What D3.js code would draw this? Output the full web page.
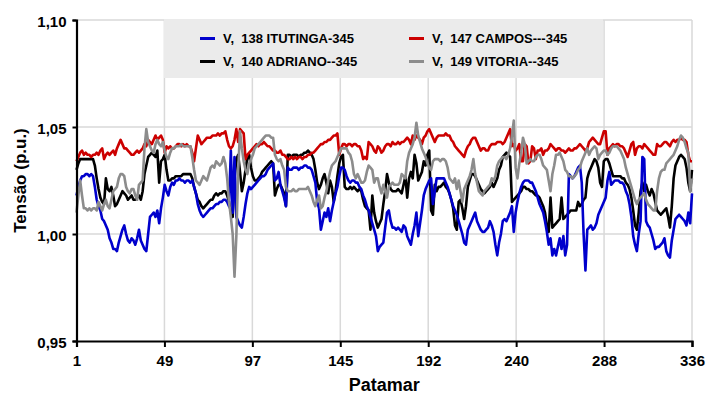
<!DOCTYPE html>
<html>
<head>
<meta charset="utf-8">
<script src="https://cdn.jsdelivr.net/npm/d3@7"></script>
<style>
  html, body { margin: 0; padding: 0; background: #ffffff; }
  svg { display: block; font-family: "Liberation Sans", Arial, sans-serif; }
</style>
</head>
<body>
<svg id="chart" width="706" height="394"></svg>
<script>
// Patamar (load level) index 1..336
const patamarCount = 336;

// Voltage (p.u.) per patamar for each bus
const itutinga138 = [
  1.018,1.022,1.025,1.027,1.027,1.028,1.028,1.027,1.028,1.027,
  1.022,1.016,1.013,1.011,1.007,1.006,1.004,1.002,0.998,0.996,
  0.993,0.993,0.992,0.996,0.999,1.002,1.004,1.000,0.997,0.996,
  0.998,0.997,0.995,0.998,1.002,0.997,0.995,0.993,0.992,1.000,
  1.008,1.009,1.010,1.008,1.011,1.005,1.012,1.017,1.023,1.020,
  1.018,1.022,1.024,1.023,1.025,1.025,1.026,1.025,1.025,1.024,
  1.025,1.025,1.024,1.025,1.022,1.019,1.014,1.011,1.009,1.008,
  1.009,1.010,1.011,1.012,1.012,1.013,1.014,1.014,1.015,1.015,
  1.016,1.016,1.015,1.013,1.039,1.010,1.036,1.008,1.006,1.004,
  1.003,1.008,1.014,1.019,1.022,1.021,1.022,1.023,1.024,1.025,
  1.026,1.027,1.027,1.028,1.030,1.031,1.032,1.033,1.025,1.026,
  1.029,1.023,1.020,1.017,1.013,1.031,1.030,1.030,1.031,1.031,
  1.031,1.030,1.031,1.031,1.032,1.032,1.031,1.031,1.030,1.027,
  1.024,1.015,1.012,1.002,1.006,1.010,1.008,1.012,1.006,1.011,
  1.015,1.019,1.022,1.027,1.031,1.031,1.030,1.027,1.025,1.024,
  1.025,1.025,1.024,1.024,1.022,1.021,1.018,1.016,1.013,1.011,
  1.008,1.005,1.002,0.999,0.992,0.994,0.995,0.996,1.003,1.010,
  1.011,1.006,1.003,1.003,1.002,1.003,1.002,1.001,1.004,1.003,
  0.999,0.997,0.995,1.000,1.004,1.010,0.999,1.005,1.011,1.018,
  1.021,1.023,1.025,1.026,1.014,1.020,1.026,1.026,1.026,1.026,
  1.026,1.024,1.022,1.019,1.016,1.013,1.011,1.009,1.006,1.003,
  1.000,0.996,0.995,1.002,1.004,1.006,1.008,1.010,1.006,1.004,
  1.002,1.001,1.001,1.002,1.003,1.006,1.004,1.001,0.995,0.990,
  0.996,1.000,1.006,1.007,1.006,1.008,1.010,1.013,1.001,1.010,
  1.015,1.019,1.022,1.024,1.025,1.025,1.025,1.024,1.024,1.022,
  1.020,1.017,1.014,1.012,1.010,1.006,1.001,0.995,0.998,0.990,
  0.993,0.990,0.994,0.998,0.993,0.999,0.990,0.995,1.028,1.027,
  1.026,1.027,1.029,1.031,1.032,1.024,1.000,0.983,1.002,1.003,
  1.004,1.002,1.003,1.005,1.009,1.011,1.013,1.015,1.017,1.025,
  1.029,1.023,1.024,1.025,1.025,1.025,1.024,1.024,1.023,1.020,
  1.018,1.014,1.008,0.999,0.995,0.992,1.000,1.006,1.036,1.035,
  1.006,1.004,1.003,1.000,0.997,0.993,0.994,0.994,0.995,0.996,
  0.998,0.992,0.990,0.989,0.997,1.002,1.007,1.008,1.009,1.008,
  1.007,1.006,1.004,1.010,1.005,1.019
];

const campos147 = [
  1.034,1.036,1.038,1.039,1.037,1.038,1.037,1.037,1.036,1.037,
  1.037,1.038,1.037,1.039,1.040,1.035,1.037,1.038,1.037,1.038,
  1.039,1.037,1.040,1.042,1.044,1.042,1.040,1.040,1.039,1.038,
  1.037,1.037,1.038,1.039,1.038,1.039,1.040,1.042,1.041,1.044,
  1.043,1.042,1.044,1.046,1.044,1.045,1.046,1.044,1.038,1.041,
  1.040,1.041,1.040,1.040,1.041,1.042,1.042,1.041,1.042,1.041,
  1.042,1.041,1.041,1.038,1.034,1.040,1.046,1.044,1.042,1.043,
  1.044,1.045,1.045,1.045,1.046,1.046,1.046,1.047,1.046,1.047,
  1.047,1.048,1.044,1.041,1.040,1.041,1.044,1.049,1.043,1.049,
  1.048,1.047,1.035,1.037,1.038,1.039,1.040,1.041,1.042,1.041,
  1.042,1.042,1.043,1.042,1.041,1.041,1.040,1.039,1.039,1.038,
  1.038,1.039,1.037,1.037,1.036,1.035,1.035,1.036,1.035,1.036,
  1.035,1.036,1.036,1.035,1.036,1.036,1.037,1.037,1.038,1.038,
  1.039,1.040,1.041,1.042,1.042,1.043,1.043,1.044,1.044,1.045,
  1.046,1.046,1.047,1.037,1.040,1.042,1.042,1.041,1.042,1.042,
  1.041,1.042,1.042,1.041,1.041,1.039,1.035,1.036,1.035,1.043,
  1.042,1.041,1.039,1.038,1.041,1.040,1.038,1.039,1.041,1.042,
  1.042,1.041,1.043,1.042,1.042,1.043,1.042,1.043,1.043,1.044,
  1.045,1.044,1.042,1.046,1.044,1.046,1.045,1.044,1.042,1.045,
  1.046,1.048,1.049,1.047,1.045,1.043,1.045,1.046,1.046,1.046,
  1.046,1.047,1.046,1.046,1.044,1.043,1.041,1.040,1.039,1.038,
  1.037,1.036,1.039,1.041,1.042,1.044,1.045,1.045,1.043,1.041,
  1.039,1.040,1.040,1.039,1.039,1.041,1.042,1.042,1.042,1.043,
  1.043,1.043,1.042,1.043,1.045,1.047,1.049,1.041,1.042,1.039,
  1.040,1.042,1.034,1.034,1.042,1.041,1.033,1.034,1.041,1.040,
  1.035,1.039,1.039,1.040,1.037,1.039,1.039,1.040,1.042,1.041,
  1.040,1.039,1.040,1.040,1.039,1.039,1.038,1.039,1.040,1.039,
  1.039,1.040,1.040,1.041,1.042,1.041,1.040,1.039,1.040,1.043,
  1.044,1.045,1.044,1.043,1.042,1.042,1.045,1.048,1.048,1.037,
  1.040,1.041,1.042,1.041,1.042,1.042,1.041,1.041,1.040,1.038,
  1.036,1.039,1.042,1.043,1.037,1.040,1.041,1.041,1.040,1.042,
  1.041,1.040,1.039,1.038,1.037,1.037,1.042,1.041,1.041,1.042,
  1.043,1.043,1.042,1.041,1.043,1.044,1.043,1.044,1.044,1.045,
  1.044,1.044,1.043,1.037,1.034,1.034
];

const adriano140 = [
  1.030,1.033,1.035,1.035,1.035,1.035,1.035,1.035,1.035,1.035,
  1.032,1.026,1.021,1.017,1.015,1.014,1.026,1.021,1.020,1.022,
  1.018,1.013,1.014,1.016,1.018,1.020,1.019,1.018,1.016,1.017,
  1.018,1.016,1.016,1.017,1.018,1.016,1.020,1.028,1.032,1.036,
  1.037,1.038,1.037,1.036,1.039,1.024,1.034,1.035,1.037,1.030,
  1.025,1.025,1.026,1.026,1.027,1.027,1.027,1.027,1.028,1.028,
  1.028,1.028,1.028,1.026,1.022,1.019,1.016,1.015,1.013,1.012,
  1.013,1.014,1.015,1.016,1.016,1.018,1.019,1.018,1.019,1.019,
  1.020,1.020,1.018,1.015,1.010,1.008,1.026,1.035,1.037,1.029,
  1.020,1.024,1.030,1.036,1.037,1.031,1.027,1.025,1.025,1.026,
  1.027,1.029,1.030,1.031,1.032,1.033,1.034,1.033,1.018,1.021,
  1.023,1.023,1.021,1.019,1.013,1.037,1.037,1.036,1.037,1.037,
  1.037,1.036,1.037,1.037,1.038,1.038,1.039,1.038,1.037,1.035,
  1.030,1.024,1.021,1.023,1.026,1.028,1.024,1.019,1.025,1.022,
  1.015,1.020,1.027,1.033,1.036,1.037,1.022,1.021,1.021,1.022,
  1.021,1.022,1.021,1.020,1.021,1.020,1.016,1.013,1.012,1.011,
  1.002,1.018,1.010,1.006,1.003,1.005,1.007,1.014,1.020,1.028,
  1.024,1.021,1.020,1.020,1.020,1.021,1.020,1.019,1.023,1.027,
  1.017,1.026,1.029,1.026,1.037,1.033,1.025,1.027,1.029,1.034,
  1.032,1.037,1.039,1.011,1.009,1.023,1.020,1.022,1.022,1.023,
  1.024,1.022,1.021,1.019,1.016,1.012,1.004,1.002,1.015,1.016,
  1.012,1.007,1.013,1.022,1.025,1.028,1.028,1.027,1.025,1.023,
  1.021,1.020,1.019,1.020,1.021,1.022,1.024,1.022,1.024,1.026,
  1.030,1.032,1.036,1.037,1.038,1.037,1.036,1.015,1.016,1.017,
  1.018,1.019,1.020,1.022,1.022,1.021,1.021,1.020,1.020,1.019,
  1.018,1.018,1.017,1.015,1.013,1.010,1.004,1.001,1.017,1.003,
  1.004,1.005,1.006,1.007,1.017,1.007,1.008,1.009,1.010,1.011,
  1.011,1.011,1.011,1.015,1.013,1.014,1.016,1.017,1.026,1.029,
  1.031,1.033,1.035,1.034,1.031,1.024,1.022,1.034,1.035,1.035,
  1.033,1.030,1.027,1.027,1.027,1.027,1.027,1.026,1.026,1.024,
  1.023,1.021,1.017,1.011,1.004,1.002,1.010,1.020,1.024,1.020,
  1.023,1.020,1.018,1.021,1.019,1.015,1.011,1.010,1.009,1.010,
  1.011,1.012,1.008,1.003,1.013,1.026,1.032,1.034,1.036,1.037,
  1.036,1.035,1.031,1.024,1.020,1.030
];

const vitoria149 = [
  1.010,1.018,1.025,1.018,1.012,1.012,1.011,1.012,1.011,1.012,
  1.012,1.011,1.015,1.013,1.011,1.014,1.016,1.013,1.012,1.016,
  1.020,1.021,1.022,1.026,1.028,1.028,1.027,1.022,1.020,1.019,
  1.021,1.021,1.018,1.016,1.023,1.024,1.025,1.040,1.049,1.043,
  1.041,1.039,1.038,1.042,1.044,1.042,1.041,1.043,1.039,1.036,
  1.035,1.038,1.040,1.040,1.041,1.041,1.041,1.042,1.041,1.041,
  1.041,1.041,1.041,1.036,1.030,1.025,1.024,1.023,1.025,1.027,
  1.026,1.025,1.028,1.031,1.032,1.031,1.034,1.033,1.032,1.033,
  1.036,1.033,1.026,1.015,1.008,1.000,0.980,0.999,1.030,1.048,
  1.040,1.034,1.030,1.028,1.033,1.035,1.037,1.040,1.041,1.042,
  1.043,1.044,1.045,1.046,1.046,1.046,1.045,1.045,1.037,1.035,
  1.034,1.035,1.032,1.030,1.022,1.020,1.020,1.020,1.021,1.020,
  1.020,1.021,1.021,1.021,1.021,1.021,1.022,1.020,1.018,1.015,
  1.013,1.016,1.018,1.012,1.013,1.017,1.020,1.025,1.029,1.032,
  1.033,1.034,1.036,1.038,1.040,1.040,1.040,1.040,1.038,1.037,
  1.034,1.028,1.026,1.028,1.026,1.024,1.024,1.025,1.029,1.032,
  1.031,1.030,1.024,1.026,1.026,1.022,1.019,1.023,1.020,1.017,
  1.022,1.023,1.024,1.023,1.023,1.023,1.024,1.028,1.027,1.026,
  1.034,1.038,1.040,1.042,1.045,1.052,1.046,1.043,1.040,1.038,
  1.036,1.033,1.031,1.030,1.034,1.035,1.035,1.035,1.034,1.035,
  1.035,1.034,1.031,1.026,1.025,1.024,1.026,1.021,1.025,1.020,
  1.015,1.021,1.023,1.025,1.027,1.030,1.035,1.028,1.024,1.020,
  1.019,1.018,1.020,1.021,1.022,1.023,1.026,1.025,1.027,1.032,
  1.034,1.035,1.036,1.036,1.035,1.037,1.040,1.046,1.053,1.031,
  1.026,1.033,1.038,1.045,1.042,1.033,1.034,1.035,1.034,1.034,
  1.036,1.037,1.037,1.035,1.032,1.031,1.030,1.025,1.020,1.028,
  1.032,1.037,1.037,1.038,1.036,1.034,1.030,1.029,1.027,1.027,
  1.026,1.027,1.028,1.030,1.031,1.034,1.036,1.038,1.040,1.037,
  1.039,1.040,1.041,1.040,1.035,1.037,1.038,1.039,1.039,1.037,
  1.038,1.040,1.041,1.041,1.041,1.040,1.039,1.037,1.035,1.031,
  1.028,1.025,1.022,1.019,1.016,1.014,1.016,1.017,1.018,1.019,
  1.016,1.014,1.013,1.012,1.011,1.011,1.020,1.026,1.029,1.030,
  1.030,1.033,1.034,1.035,1.036,1.037,1.039,1.041,1.044,1.046,
  1.045,1.043,1.040,1.038,1.020,1.026
];

// Legend entries (row-major, two columns)
const legendNames = [
  "V,  138 ITUTINGA-345",
  "V,  147 CAMPOS---345",
  "V,  140 ADRIANO--345",
  "V,  149 VITORIA--345"
];

// Axis tick labels
const yTickValues = [0.95, 1.00, 1.05, 1.10];
const xTickLabels = ["1", "49", "97", "145", "192", "240", "288", "336"];

const xTitle = "Patamar";
const yTitle = "Tensão (p.u.)";

// ---- drawing ----
const svg = d3.select("#chart");
const W = 706, H = 394;
const plot = { left: 76.5, right: 692, top: 20, bottom: 341 };

svg.append("rect").attr("width", W).attr("height", H).attr("fill", "#ffffff");

const x = d3.scaleLinear().domain([1, patamarCount]).range([plot.left, plot.right]);
const y = d3.scaleLinear().domain([0.95, 1.10]).range([plot.bottom, plot.top]);

// evenly spaced category ticks (every 335/7 patamares)
const xTickPos = xTickLabels.map((_, k) => 1 + k * (patamarCount - 1) / (xTickLabels.length - 1));

const ptBR = d3.formatLocale({ decimal: ",", thousands: ".", grouping: [3], currency: ["", ""] });
const fmtY = ptBR.format(".2f");

// gridlines
const grid = svg.append("g").attr("stroke", "#d9d9d9").attr("stroke-width", 1.5);
grid.selectAll("line.h")
  .data(yTickValues.slice(1))
  .join("line")
  .attr("x1", plot.left).attr("x2", plot.right)
  .attr("y1", d => y(d)).attr("y2", d => y(d));
grid.selectAll("line.v")
  .data(xTickPos.slice(1))
  .join("line")
  .attr("x1", d => x(d)).attr("x2", d => x(d))
  .attr("y1", plot.top).attr("y2", plot.bottom);

// series
const series = [
  { name: legendNames[2], values: adriano140, color: "#000000" },
  { name: legendNames[0], values: itutinga138, color: "#0000cc" },
  { name: legendNames[1], values: campos147, color: "#cc0000" },
  { name: legendNames[3], values: vitoria149, color: "#8c8c8c" }
];

const line = d3.line()
  .x((d, i) => x(i + 1))
  .y(d => y(d));

svg.append("g")
  .selectAll("path")
  .data(series)
  .join("path")
  .attr("d", d => line(d.values))
  .attr("fill", "none")
  .attr("stroke", d => d.color)
  .attr("stroke-width", 2.6)
  .attr("stroke-linejoin", "round");

// legend
const legendColors = ["#0000cc", "#cc0000", "#000000", "#8c8c8c"];
const lg = svg.append("g");
lg.append("rect")
  .attr("x", 164).attr("y", 19).attr("width", 439).attr("height", 59)
  .attr("fill", "#ebebeb");
const items = lg.selectAll("g.item")
  .data(legendNames)
  .join("g")
  .attr("transform", (d, i) => `translate(${i % 2 === 0 ? 200 : 409},${i < 2 ? 38.5 : 61.5})`);
items.append("line")
  .attr("x1", 0).attr("x2", 15).attr("y1", 0).attr("y2", 0)
  .attr("stroke", (d, i) => legendColors[i]).attr("stroke-width", 3);
items.append("text")
  .attr("x", 23).attr("y", 0).attr("dy", "0.35em")
  .style("white-space", "pre")
  .attr("font-size", 13).attr("font-weight", "bold")
  .text(d => d);

// axes
const yAxis = d3.axisLeft(y)
  .tickValues(yTickValues)
  .tickFormat(fmtY)
  .tickSize(4)
  .tickPadding(6);
const gy = svg.append("g").attr("transform", `translate(${plot.left},0)`).call(yAxis);

const xAxis = d3.axisBottom(x)
  .tickValues(xTickPos)
  .tickFormat((d, i) => xTickLabels[i])
  .tickSize(6)
  .tickPadding(8);
const gx = svg.append("g").attr("transform", `translate(0,${plot.bottom})`).call(xAxis);

[gx, gy].forEach(g => {
  g.select(".domain").attr("stroke", "#000").attr("stroke-width", 2.2);
  g.selectAll(".tick line").attr("stroke", "#000").attr("stroke-width", 2);
  g.selectAll(".tick text")
    .attr("fill", "#000")
    .attr("font-size", 15)
    .attr("font-weight", "bold")
    .attr("font-family", "Liberation Sans, Arial, sans-serif");
});
gy.selectAll(".tick text").attr("dy", "0.45em");

// axis titles
svg.append("text")
  .attr("x", (plot.left + plot.right) / 2).attr("y", 391)
  .attr("text-anchor", "middle")
  .attr("font-size", 18).attr("font-weight", "bold")
  .text(xTitle);

svg.append("text")
  .attr("transform", `translate(26,${(plot.top + plot.bottom) / 2}) rotate(-90)`)
  .attr("text-anchor", "middle")
  .attr("font-size", 17).attr("font-weight", "bold")
  .text(yTitle);
</script>
</body>
</html>
